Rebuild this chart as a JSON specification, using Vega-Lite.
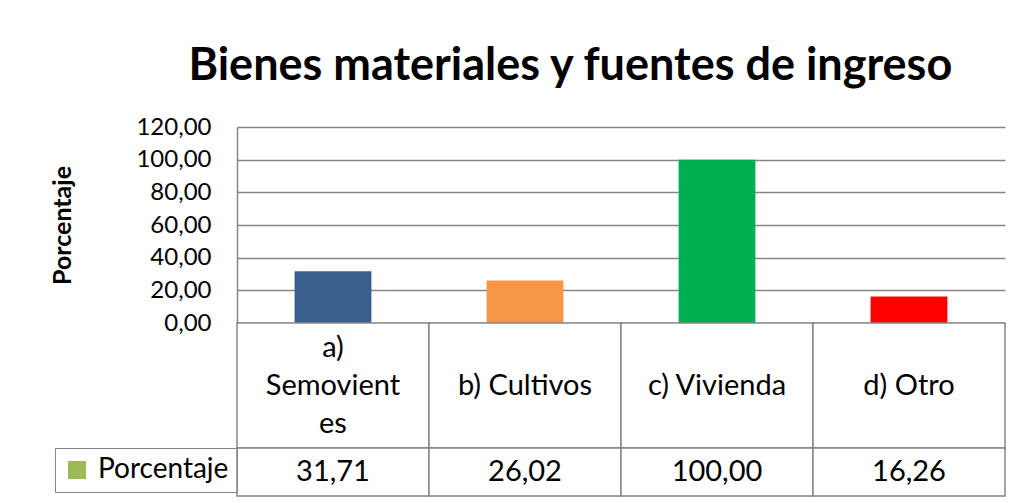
{
  "$schema": "https://vega.github.io/schema/vega-lite/v6.json",
  "background": "white",
  "padding": {"left": 50, "top": 44, "right": 10, "bottom": 4},
  "title": {
    "text": "Bienes materiales y fuentes de ingreso",
    "font": "Lato",
    "fontSize": 45,
    "fontWeight": "bold",
    "color": "#000000",
    "anchor": "middle",
    "offset": 26,
    "dx": 42
  },
  "data": {
    "values": [
      {"categoria": "a) Semovientes", "etiqueta": ["a)", "Semovient", "es"], "porcentaje": 31.71},
      {"categoria": "b) Cultivos", "etiqueta": ["b) Cultivos"], "porcentaje": 26.02},
      {"categoria": "c) Vivienda", "etiqueta": ["c) Vivienda"], "porcentaje": 100.0},
      {"categoria": "d) Otro", "etiqueta": ["d) Otro"], "porcentaje": 16.26}
    ]
  },
  "spacing": 0,
  "bounds": "flush",
  "resolve": {
    "scale": {"x": "independent", "color": "independent"},
    "legend": {"color": "independent"}
  },
  "vconcat": [
    {
      "width": 768,
      "height": 196,
      "mark": {"type": "bar"},
      "encoding": {
        "x": {
          "field": "categoria",
          "type": "nominal",
          "scale": {"paddingInner": 0.6, "paddingOuter": 0.3},
          "axis": null
        },
        "y": {
          "field": "porcentaje",
          "type": "quantitative",
          "scale": {"domain": [0, 120], "nice": false},
          "axis": {
            "values": [0, 20, 40, 60, 80, 100, 120],
            "labelExpr": "replace(format(datum.value, '.2f'), '.', ',')",
            "title": "Porcentaje",
            "titleFont": "Lato",
            "titleFontSize": 25,
            "titleFontWeight": "bold",
            "titleColor": "#000000",
            "titlePadding": 60,
            "labelFont": "Lato",
            "labelFontSize": 24,
            "labelColor": "#000000",
            "labelPadding": 26,
            "ticks": false,
            "domainColor": "#868686",
            "domainWidth": 1.5,
            "gridColor": "#868686",
            "gridWidth": 1.5
          }
        },
        "color": {
          "field": "categoria",
          "type": "nominal",
          "scale": {"range": ["#3A5F8E", "#F79646", "#00B050", "#FF0000"]},
          "legend": null
        }
      }
    },
    {
      "width": 768,
      "height": 125,
      "layer": [
        {
          "mark": {"type": "rect", "fill": "white", "stroke": "#868686", "strokeWidth": 1.5},
          "encoding": {
            "x": {"field": "categoria", "type": "nominal", "scale": {"paddingInner": 0, "paddingOuter": 0}, "axis": null}
          }
        },
        {
          "transform": [{"filter": "length(datum.etiqueta) > 1"}],
          "mark": {"type": "text", "font": "Lato", "fontSize": 29, "lineHeight": 38, "dy": -38, "color": "#000000", "baseline": "middle", "align": "center"},
          "encoding": {
            "x": {"field": "categoria", "type": "nominal", "axis": null},
            "text": {"field": "etiqueta"}
          }
        },
        {
          "transform": [{"filter": "length(datum.etiqueta) == 1"}],
          "mark": {"type": "text", "font": "Lato", "fontSize": 29, "color": "#000000", "baseline": "middle", "align": "center"},
          "encoding": {
            "x": {"field": "categoria", "type": "nominal", "axis": null},
            "text": {"field": "etiqueta"}
          }
        }
      ]
    },
    {
      "width": 768,
      "height": 48,
      "layer": [
        {
          "mark": {"type": "rect", "fill": "white", "stroke": "#868686", "strokeWidth": 1.5},
          "encoding": {
            "x": {"field": "categoria", "type": "nominal", "scale": {"paddingInner": 0, "paddingOuter": 0}, "axis": null}
          }
        },
        {
          "mark": {"type": "text", "font": "Lato", "fontSize": 29, "color": "#000000", "baseline": "middle", "align": "center"},
          "encoding": {
            "x": {"field": "categoria", "type": "nominal", "axis": null},
            "text": {"field": "porcentaje", "type": "quantitative", "format": ".2f"}
          }
        },
        {
          "mark": {"type": "point", "shape": "square", "filled": true, "opacity": 0, "size": 0},
          "encoding": {
            "x": {"field": "categoria", "type": "nominal", "axis": null},
            "color": {
              "datum": "Porcentaje",
              "scale": {"range": ["#9BBB59"]},
              "legend": {
                "orient": "left",
                "offset": 0,
                "title": null,
                "symbolType": "square",
                "symbolSize": 324,
                "symbolOpacity": 1,
                "symbolStrokeWidth": 0,
                "labelFont": "Lato",
                "labelFontSize": 28,
                "labelColor": "#000000",
                "labelOffset": 7,
                "padding": 8,
                "strokeColor": "#868686"
              }
            }
          }
        }
      ]
    }
  ],
  "config": {
    "view": {"stroke": null},
    "locale": {
      "number": {"decimal": ",", "thousands": ".", "grouping": [3], "currency": ["", " €"]}
    }
  }
}
